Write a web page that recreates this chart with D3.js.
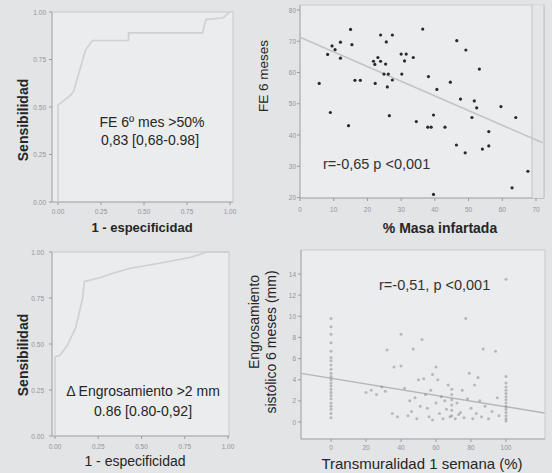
<!DOCTYPE html>
<html><head><meta charset="utf-8">
<script src="https://cdn.jsdelivr.net/npm/d3@7"></script>
<style>
body{margin:0;background:#e2e4e6}
svg{display:block}
text{font-family:"Liberation Sans",Arial,Helvetica,sans-serif}
</style>
</head><body>
<svg id="c" width="552" height="473"></svg>
<script>
// ---------- DATA ----------
// Panel A: ROC curve, FE 6º mes >50%
const roc1FPR = [0, 0, 0.07, 0.09, 0.16, 0.20, 0.41, 0.41, 0.84, 0.86, 0.96, 1];
const roc1TPR = [0, 0.51, 0.56, 0.58, 0.80, 0.85, 0.85, 0.89, 0.89, 0.96, 0.97, 1];
const roc1Label = ["FE 6º mes >50%", "0,83 [0,68-0.98]"];

// Panel B: FE 6 meses vs % masa infartada
const masa = [5.7, 8.2, 9.0, 9.5, 10.4, 12, 12, 14.4, 15, 15.4, 16.3, 17.9, 21.8, 22.2, 22.3, 23.1, 23.9, 23.9,
  25.6, 25.4, 24.9, 26.2, 25.9, 27.4, 27.4, 26.5, 30, 31.5, 31, 30.2, 33.6, 34.5, 36.4, 38.1, 37.9, 38.9, 39.6,
  40.6, 39.6, 43, 44.6, 46.5, 46.4, 47.6, 49.2, 49, 51, 51.7, 52.4, 53.2, 54.1, 56, 56, 59.6, 62.9, 64, 67.6];
const fe6 = [56.5, 65.8, 47.2, 68.5, 67.3, 69.7, 64.6, 43, 73.8, 68.9, 57.5, 57.5, 63.6, 62.6, 56.5, 64.8, 63.6, 72,
  69.8, 62.7, 59.5, 59.5, 55.4, 57.6, 72, 46.2, 65.9, 65.9, 63.7, 59.5, 64.8, 44.3, 73.9, 58.7, 42.5, 42.5, 46.4,
  54.6, 21, 42.5, 56.9, 70.2, 36.8, 51.5, 67.2, 34.3, 45.6, 50.9, 48.7, 61.1, 35.5, 41.1, 36.5, 49.1, 23.1, 45.6, 28.4];
const fitB = {x: [0, 72], y: [71.3, 37.5]};
const xTicksB = [0, 10, 20, 30, 40, 50, 60, 70];
const yTicksB = [20, 30, 40, 50, 60, 70, 80];
const labelB = "r=-0,65  p <0,001";

// Panel C: ROC curve, Δ Engrosamiento >2 mm
const roc2FPR = [0, 0, 0.03, 0.07, 0.12, 0.16, 0.17, 0.26, 0.32, 0.43, 0.61, 0.78, 0.88, 1];
const roc2TPR = [0, 0.43, 0.44, 0.49, 0.59, 0.75, 0.84, 0.86, 0.88, 0.91, 0.94, 0.97, 1.0, 1.0];
const roc2Label = ["Δ Engrosamiento >2 mm", "0.86 [0.80-0,92]"];
const rocTicks = [0, 0.25, 0.5, 0.75, 1];

// Panel D: engrosamiento sistólico 6 meses vs transmuralidad 1 semana
const transm = [
  0,0,0,0,0,0,0,0,0,0,0,0,0,0,0,0,0,0,0,0,0,0,0,
  100,100,100,100,100,100,100,100,100,100,100,100,100,100,100,
  20,23,26,29,31,32,36,38,40,40,42,44,46,47,49,50,52,53,54,55,56,57,58,60,60,61,62,64,65,66,68,
  69,69,69,69,69,69,71,72,74,75,76,77,78,80,81,82,83,85,86,87,88,90,92,94,95,96,45,48,35,51,63,67,79,58,73,84];
const engros = [
  9.8,9.0,8.3,7.5,6.7,6.1,5.8,5.4,5.0,4.6,4.3,4.0,3.7,3.4,3.1,2.8,2.5,2.2,1.8,1.5,1.2,0.8,0.4,
  13.5,4.3,3.7,3.3,3.0,2.7,2.4,2.1,1.8,1.5,1.2,0.9,0.6,0.3,0.1,
  2.8,3.0,2.6,3.3,2.9,6.8,5.2,0.5,5.3,8.3,3.2,0.6,1.0,6.9,0.3,4.0,7.8,4.1,2.6,1.3,0.5,3.0,0.2,5.2,1.8,4.0,0.8,0.3,2.0,1.2,0.5,
  3.1,2.6,2.1,1.6,1.1,0.6,0.3,1.8,0.9,3.0,0.4,9.8,2.2,1.3,0.3,3.5,0.8,2.0,0.5,6.9,1.5,0.3,1.0,6.7,2.3,0.6,2.0,2.3,0.8,1.5,2.4,3.5,4.6,4.5,0.7,4.2];
const fitD = {x: [-17, 122], y: [4.6, 0.85]};
const xTicksD = [0, 20, 40, 60, 80, 100];
const yTicksD = [0, 2, 4, 6, 8, 10, 12, 14];
const labelD = "r=-0,51, p <0,001";

// ---------- DRAWING ----------
const svg = d3.select("#c");
const frameCol = "#a9abad", tickCol = "#9a9c9e", tickTxt = "#939597", titleCol = "#262626";
const inner = "#eaeced";

function frame(x0, y0, x1, y1) {
  svg.append("rect").attr("x", x0).attr("y", y0).attr("width", x1 - x0).attr("height", y1 - y0)
    .attr("fill", inner).attr("stroke", "#c8cacc").attr("stroke-width", 1);
  svg.append("line").attr("x1", x0).attr("x2", x0).attr("y1", y0).attr("y2", y1).attr("stroke", frameCol);
  svg.append("line").attr("x1", x0).attr("x2", x1).attr("y1", y1).attr("y2", y1).attr("stroke", frameCol);
}
function yAxis(scale, ticks, x, fmt, lx) {
  ticks.forEach(t => {
    svg.append("line").attr("x1", x - 3).attr("x2", x).attr("y1", scale(t)).attr("y2", scale(t)).attr("stroke", tickCol);
    svg.append("text").attr("x", lx).attr("y", scale(t) + 2.5).attr("text-anchor", "end")
      .attr("font-size", 6.5).attr("fill", tickTxt).text(fmt(t));
  });
}
function xAxis(scale, ticks, y, fmt, ly) {
  ticks.forEach(t => {
    svg.append("line").attr("x1", scale(t)).attr("x2", scale(t)).attr("y1", y).attr("y2", y + 3).attr("stroke", tickCol);
    svg.append("text").attr("x", scale(t)).attr("y", ly).attr("text-anchor", "middle")
      .attr("font-size", 6.5).attr("fill", tickTxt).text(fmt(t));
  });
}
function vTitle(txt, x, y, size, weight) {
  svg.append("text").attr("transform", `translate(${x},${y}) rotate(-90)`).attr("text-anchor", "middle")
    .attr("font-size", size).attr("font-weight", weight).attr("fill", titleCol).text(txt);
}
function hTitle(txt, x, y, size, weight) {
  svg.append("text").attr("x", x).attr("y", y).attr("text-anchor", "middle")
    .attr("font-size", size).attr("font-weight", weight).attr("fill", titleCol).text(txt);
}
const f2 = d3.format(".2f");

// Panel A
{
  const x = d3.scaleLinear().domain([0, 1]).range([58, 230]);
  const y = d3.scaleLinear().domain([0, 1]).range([202, 12]);
  frame(52, 12, 233, 202);
  yAxis(y, rocTicks, 52, f2, 46);
  xAxis(x, rocTicks, 202, f2, 214);
  svg.append("path").datum(d3.range(roc1FPR.length))
    .attr("d", d3.line().x(i => x(roc1FPR[i])).y(i => y(roc1TPR[i])))
    .attr("fill", "none").attr("stroke", "#cdd1d4").attr("stroke-width", 1.6);
  hTitle(roc1Label[0], 152, 127, 14, "normal");
  hTitle(roc1Label[1], 150, 145, 14, "normal");
  vTitle("Sensibilidad", 28, 120, 14, "bold");
  hTitle("1 - especificidad", 142, 232, 13, "bold");
}

// Panel B
{
  const x = d3.scaleLinear().domain([0, 70]).range([300, 536]);
  const y = d3.scaleLinear().domain([20, 80]).range([197.5, 10]);
  frame(300, 5, 544, 198);
  svg.append("rect").attr("x", 532).attr("y", 5).attr("width", 12).attr("height", 193).attr("fill", "#e3e5e6");
  svg.append("line").attr("x1", 532).attr("x2", 532).attr("y1", 5).attr("y2", 198).attr("stroke", "#bfc1c3");
  svg.append("line").attr("x1", 544).attr("x2", 544).attr("y1", 5).attr("y2", 198).attr("stroke", "#bfc1c3");
  yAxis(y, yTicksB, 300, d3.format("d"), 296);
  xAxis(x, xTicksB, 198, d3.format("d"), 212);
  svg.append("line").attr("x1", x(fitB.x[0])).attr("y1", y(fitB.y[0])).attr("x2", x(fitB.x[1])).attr("y2", y(fitB.y[1]))
    .attr("stroke", "#c2c5c8").attr("stroke-width", 1.5);
  svg.selectAll(".ptB").data(d3.range(masa.length)).enter().append("circle")
    .attr("cx", i => x(masa[i])).attr("cy", i => y(fe6[i])).attr("r", 1.6).attr("fill", "#2a2a2a");
  svg.append("text").attr("x", 323).attr("y", 169).attr("font-size", 14.5).attr("fill", "#333").text(labelB);
  vTitle("FE 6 meses", 268, 76, 13.5, "normal");
  hTitle("% Masa infartada", 440, 233, 14, "bold");
}

// Panel C
{
  const x = d3.scaleLinear().domain([0, 1]).range([55, 228]);
  const y = d3.scaleLinear().domain([0, 1]).range([436, 252]);
  frame(52, 252, 229, 436);
  yAxis(y, rocTicks, 52, f2, 44);
  xAxis(x, rocTicks, 436, f2, 449);
  svg.append("path").datum(d3.range(roc2FPR.length))
    .attr("d", d3.line().x(i => x(roc2FPR[i])).y(i => y(roc2TPR[i])))
    .attr("fill", "none").attr("stroke", "#cdd1d4").attr("stroke-width", 1.6);
  hTitle(roc2Label[0], 143, 396, 14, "normal");
  hTitle(roc2Label[1], 143, 416, 14, "normal");
  vTitle("Sensibilidad", 28, 355, 14, "bold");
  hTitle("1 - especificidad", 135, 466, 14, "normal");
}

// Panel D
{
  const x = d3.scaleLinear().domain([0, 100]).range([331, 506]);
  const y = d3.scaleLinear().domain([0, 14]).range([422, 274]);
  frame(301, 250, 545, 439);
  yAxis(y, yTicksD, 301, d3.format("d"), 296);
  xAxis(x, xTicksD, 439, d3.format("d"), 450);
  svg.append("line").attr("x1", x(fitD.x[0])).attr("y1", y(fitD.y[0])).attr("x2", x(fitD.x[1])).attr("y2", y(fitD.y[1]))
    .attr("stroke", "#b4b7ba").attr("stroke-width", 1.5);
  svg.selectAll(".ptD").data(d3.range(transm.length)).enter().append("circle")
    .attr("cx", i => x(transm[i])).attr("cy", i => y(engros[i])).attr("r", 1.5)
    .attr("fill", "#6a6c6e").attr("fill-opacity", 0.4);
  svg.append("text").attr("x", 379).attr("y", 290).attr("font-size", 14.5).attr("fill", "#333").text(labelD);
  vTitle("Engrosamiento", 259, 322, 14, "normal");
  vTitle("sistólico 6 meses (mm)", 276, 342, 14, "normal");
  hTitle("Transmuralidad 1 semana (%)", 422, 469, 15, "normal");
}
</script>
</body></html>
